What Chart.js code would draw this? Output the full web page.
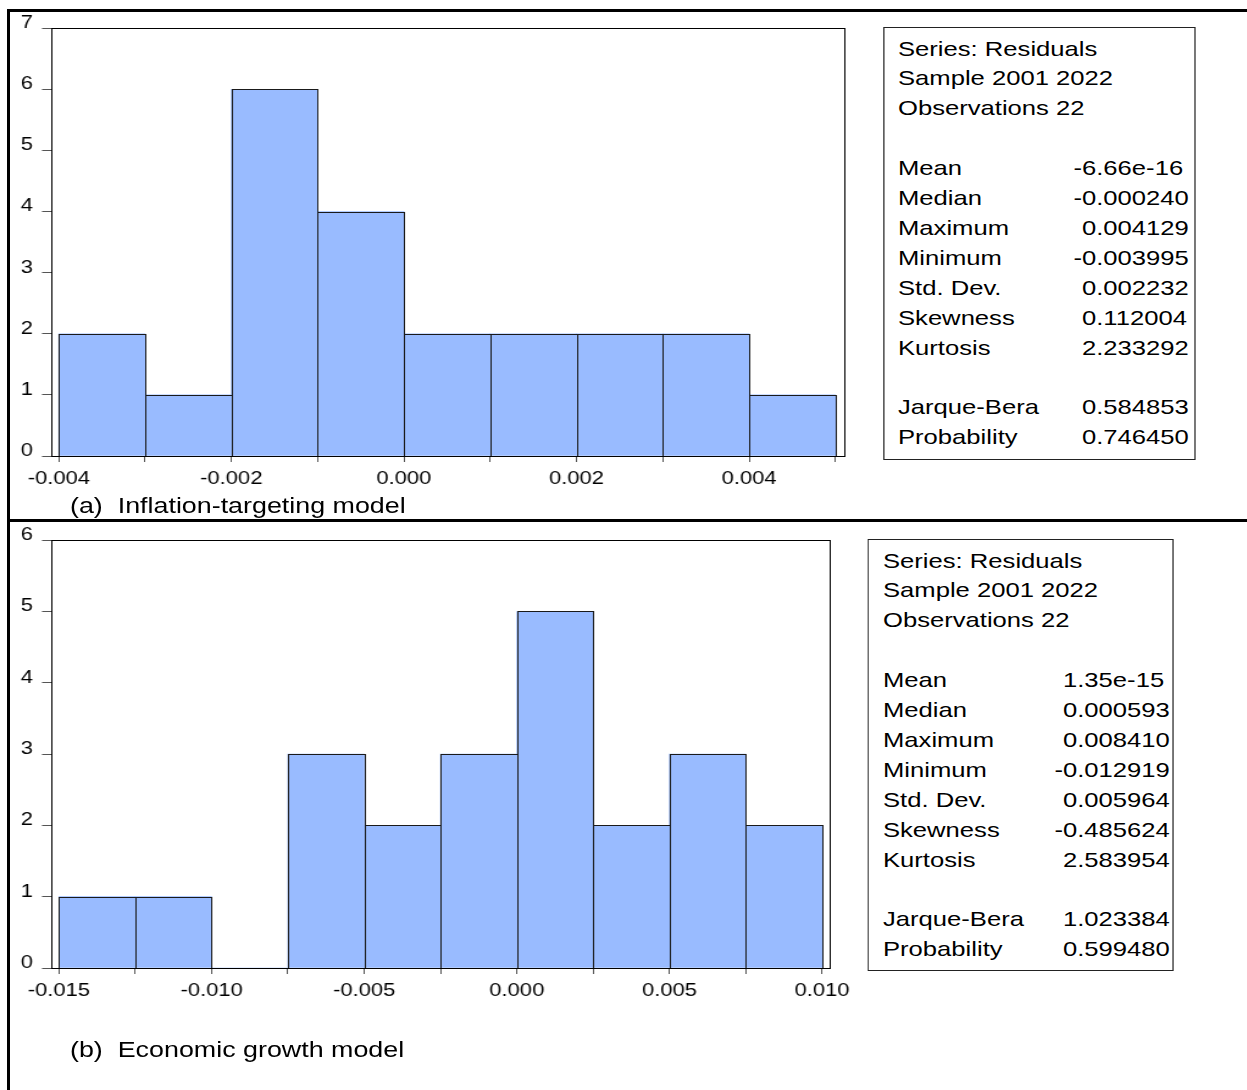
<!DOCTYPE html>
<html>
<head>
<meta charset="utf-8">
<title>Residual histograms</title>
<script src="https://cdn.jsdelivr.net/npm/chart.js@4.4.1/dist/chart.umd.min.js"></script>
<style>
  html, body { margin: 0; padding: 0; background: #fff; width: 1247px; height: 1090px; overflow: hidden; }
  #page { position: absolute; left: 0; top: 0; width: 1247px; height: 1090px; }
  .rule { position: absolute; background: #000; }
  #stretch { position: absolute; left: 0; top: 0; height: 1090px; transform-origin: 0 0; }
  .holder { position: absolute; left: 0; }
  .stats { position: absolute; box-sizing: border-box; border: 1px solid #222; background: #fff;
           font-family: 'Liberation Sans', Arial, sans-serif; font-size: 21px; color: #000; }
  .row { position: absolute; left: 0; right: 0; height: 29.9px; line-height: 29.9px; white-space: nowrap; }
  .row span { position: absolute; top: 0; }
  .caption { position: absolute; font-family: 'Liberation Sans', Arial, sans-serif; font-size: 22px;
             line-height: 22px; white-space: pre; color: #000; }
</style>
</head>
<body>
<div id="page">
  <div class="rule" style="left:7px;top:9px;width:1240px;height:3px"></div>
  <div class="rule" style="left:7px;top:9px;width:3px;height:1081px"></div>
  <div class="rule" style="left:7px;top:519px;width:1240px;height:3px"></div>
  <div id="stretch"></div>
</div>
<script>
// ---- (a) Inflation-targeting model: residual histogram ----
const binStartsA = [-0.004, -0.003, -0.002, -0.001, 0.000, 0.001, 0.002, 0.003, 0.004];
const countsA    = [2, 1, 6, 4, 2, 2, 2, 2, 1];
const binWidthA  = 0.001;
const xTickLabelsA = ['-0.004', '-0.002', '0.000', '0.002', '0.004'];
const yTicksA = [0, 1, 2, 3, 4, 5, 6, 7];
const statsValuesA = ['-6.66e-16', '-0.000240', '0.004129', '-0.003995', '0.002232', '0.112004', '2.233292', '0.584853', '0.746450'];

// ---- (b) Economic growth model: residual histogram ----
const binStartsB = [-0.015, -0.0125, -0.010, -0.0075, -0.005, -0.0025, 0.000, 0.0025, 0.005, 0.0075];
const countsB    = [1, 1, 0, 3, 2, 3, 5, 2, 3, 2];
const binWidthB  = 0.0025;
const xTickLabelsB = ['-0.015', '-0.010', '-0.005', '0.000', '0.005', '0.010'];
const yTicksB = [0, 1, 2, 3, 4, 5, 6];
const statsValuesB = ['1.35e-15', '0.000593', '0.008410', '-0.012919', '0.005964', '-0.485624', '2.583954', '1.023384', '0.599480'];

// ---- shared text of the statistics boxes ----
const headerLines = ['Series: Residuals', 'Sample 2001 2022', 'Observations 22'];
const statNames   = ['Mean', 'Median', 'Maximum', 'Minimum', 'Std. Dev.', 'Skewness', 'Kurtosis'];
const testNames   = ['Jarque-Bera', 'Probability'];

const FONT = "'Liberation Sans', Arial, sans-serif";
const S = 1.22;                      // horizontal stretch of the whole figure
const WU = 713;                      // canvas width before stretching
const stretch = document.getElementById('stretch');
stretch.style.width = (1247 / S) + 'px';
stretch.style.transform = 'scaleX(' + S + ')';

// Black outline on every non-empty bin plus the frame around the plot area
const outlinePlugin = {
  id: 'histOutline',
  afterDatasetsDraw(chart) {
    const ctx = chart.ctx;
    const meta = chart.getDatasetMeta(0);
    const pts = chart.data.datasets[0].data;
    ctx.save();
    ctx.lineWidth = 1;
    ctx.strokeStyle = '#1a1a1a';
    meta.data.forEach((bar, i) => {
      if (!pts[i].y) return;
      const p = bar.getProps(['x', 'y', 'base', 'width'], true);
      const l = Math.round(p.x - p.width / 2) + 0.5;
      const r = Math.round(p.x + p.width / 2) + 0.5;
      const t = Math.round(p.y) + 0.5;
      const b = Math.round(p.base) + 0.5;
      ctx.strokeRect(l, t, r - l, b - t);
    });
    const a = chart.chartArea;
    const L = Math.round(a.left) + 0.5, T = Math.round(a.top) + 0.5;
    ctx.strokeStyle = '#000';
    ctx.strokeRect(L, T, Math.round(a.right) - Math.round(a.left), Math.round(a.bottom) - Math.round(a.top));
    ctx.restore();
  }
};

function buildPanel(cfg) {
  // chart canvas
  const holder = document.createElement('div');
  holder.className = 'holder';
  holder.style.top = cfg.top + 'px';
  const canvas = document.createElement('canvas');
  canvas.width = WU; canvas.height = 500;
  canvas.style.width = WU + 'px'; canvas.style.height = '500px';
  holder.appendChild(canvas);
  stretch.appendChild(holder);

  const edges = cfg.binStarts.concat([cfg.binStarts[cfg.binStarts.length - 1] + cfg.binWidth]);
  const points = cfg.binStarts.map((s, i) => ({ x: s + cfg.binWidth / 2, y: cfg.counts[i] }));
  const labelFor = v => {
    const hit = cfg.tickLabels.find(t => Math.abs(parseFloat(t) - v) < cfg.binWidth / 100);
    return hit === undefined ? '' : hit;
  };

  new Chart(canvas, {
    type: 'bar',
    data: {
      datasets: [{
        data: points,
        backgroundColor: '#99BBFF',
        borderWidth: 0,
        barPercentage: 1,
        categoryPercentage: 1
      }]
    },
    options: {
      responsive: false,
      animation: false,
      devicePixelRatio: 1,
      layout: { padding: { left: 0, top: cfg.areaTop - cfg.top, right: WU - cfg.areaRight / S, bottom: 0 } },
      plugins: { legend: { display: false }, tooltip: { enabled: false } },
      scales: {
        x: {
          type: 'linear',
          min: cfg.xMin, max: cfg.xMax,
          offset: false,
          afterBuildTicks: s => { s.ticks = edges.map(v => ({ value: v })); },
          afterFit: s => { s.height = 500 - (cfg.areaBottom - cfg.top); },
          border: { display: false },
          grid: { offset: false, drawOnChartArea: false, drawTicks: true, tickLength: 6, color: '#555', lineWidth: 1 },
          ticks: {
            autoSkip: false, minRotation: 0, maxRotation: 0, padding: 6,
            color: '#000', font: { family: FONT, size: 18 },
            callback: v => labelFor(v)
          }
        },
        y: {
          min: 0, max: cfg.yTicks[cfg.yTicks.length - 1],
          afterBuildTicks: s => { s.ticks = cfg.yTicks.map(v => ({ value: v })); },
          afterFit: s => { s.width = cfg.areaLeft / S; },
          border: { display: false },
          grid: { offset: false, drawOnChartArea: false, drawTicks: true, tickLength: 9 / S, color: '#555', lineWidth: 1 },
          ticks: {
            padding: 9 / S, labelOffset: -5,
            color: '#000', font: { family: FONT, size: 18 },
            callback: v => String(v)
          }
        }
      }
    },
    plugins: [outlinePlugin]
  });

  // statistics box
  const box = document.createElement('div');
  box.className = 'stats';
  box.style.left = (cfg.box.left / S) + 'px';
  box.style.top = cfg.box.top + 'px';
  box.style.width = ((cfg.box.right - cfg.box.left) / S) + 'px';
  box.style.height = (cfg.box.bottom - cfg.box.top) + 'px';
  const lines = [];
  headerLines.forEach(t => lines.push([t, null]));
  lines.push(null);
  statNames.forEach((t, i) => lines.push([t, cfg.stats[i]]));
  lines.push(null);
  testNames.forEach((t, i) => lines.push([t, cfg.stats[statNames.length + i]]));
  lines.forEach((ln, k) => {
    if (!ln) return;
    const row = document.createElement('div');
    row.className = 'row';
    row.style.top = (5.5 + k * 29.9) + 'px';
    const a = document.createElement('span');
    a.style.left = (15 / S - 1) + 'px';
    a.textContent = ln[0];
    row.appendChild(a);
    if (ln[1] !== null) {
      const b = document.createElement('span');
      b.style.left = (cfg.box.valueX / S - 1) + 'px';
      if (ln[1].charAt(0) === '-') b.style.marginLeft = '-0.333em';
      b.textContent = ln[1];
      row.appendChild(b);
    }
    box.appendChild(row);
  });
  stretch.appendChild(box);

  // caption
  const cap = document.createElement('div');
  cap.className = 'caption';
  cap.style.left = (70 / S) + 'px';
  cap.style.top = (cfg.captionY - 10.7) + 'px';
  cap.textContent = cfg.caption;
  stretch.appendChild(cap);
}

buildPanel({
  top: 10, areaTop: 27, areaBottom: 456, areaLeft: 51, areaRight: 844,
  xMin: -0.00409, xMax: 0.0051,
  binStarts: binStartsA, counts: countsA, binWidth: binWidthA,
  tickLabels: xTickLabelsA, yTicks: yTicksA, stats: statsValuesA,
  box: { left: 883, right: 1195, top: 27, bottom: 460, valueX: 199 },
  caption: '(a)  Inflation-targeting model', captionY: 506
});

buildPanel({
  top: 522, areaTop: 539, areaBottom: 968, areaLeft: 51, areaRight: 830,
  xMin: -0.01526, xMax: 0.01026,
  binStarts: binStartsB, counts: countsB, binWidth: binWidthB,
  tickLabels: xTickLabelsB, yTicks: yTicksB, stats: statsValuesB,
  box: { left: 868, right: 1174, top: 539, bottom: 971, valueX: 195 },
  caption: '(b)  Economic growth model', captionY: 1050
});
</script>
</body>
</html>
